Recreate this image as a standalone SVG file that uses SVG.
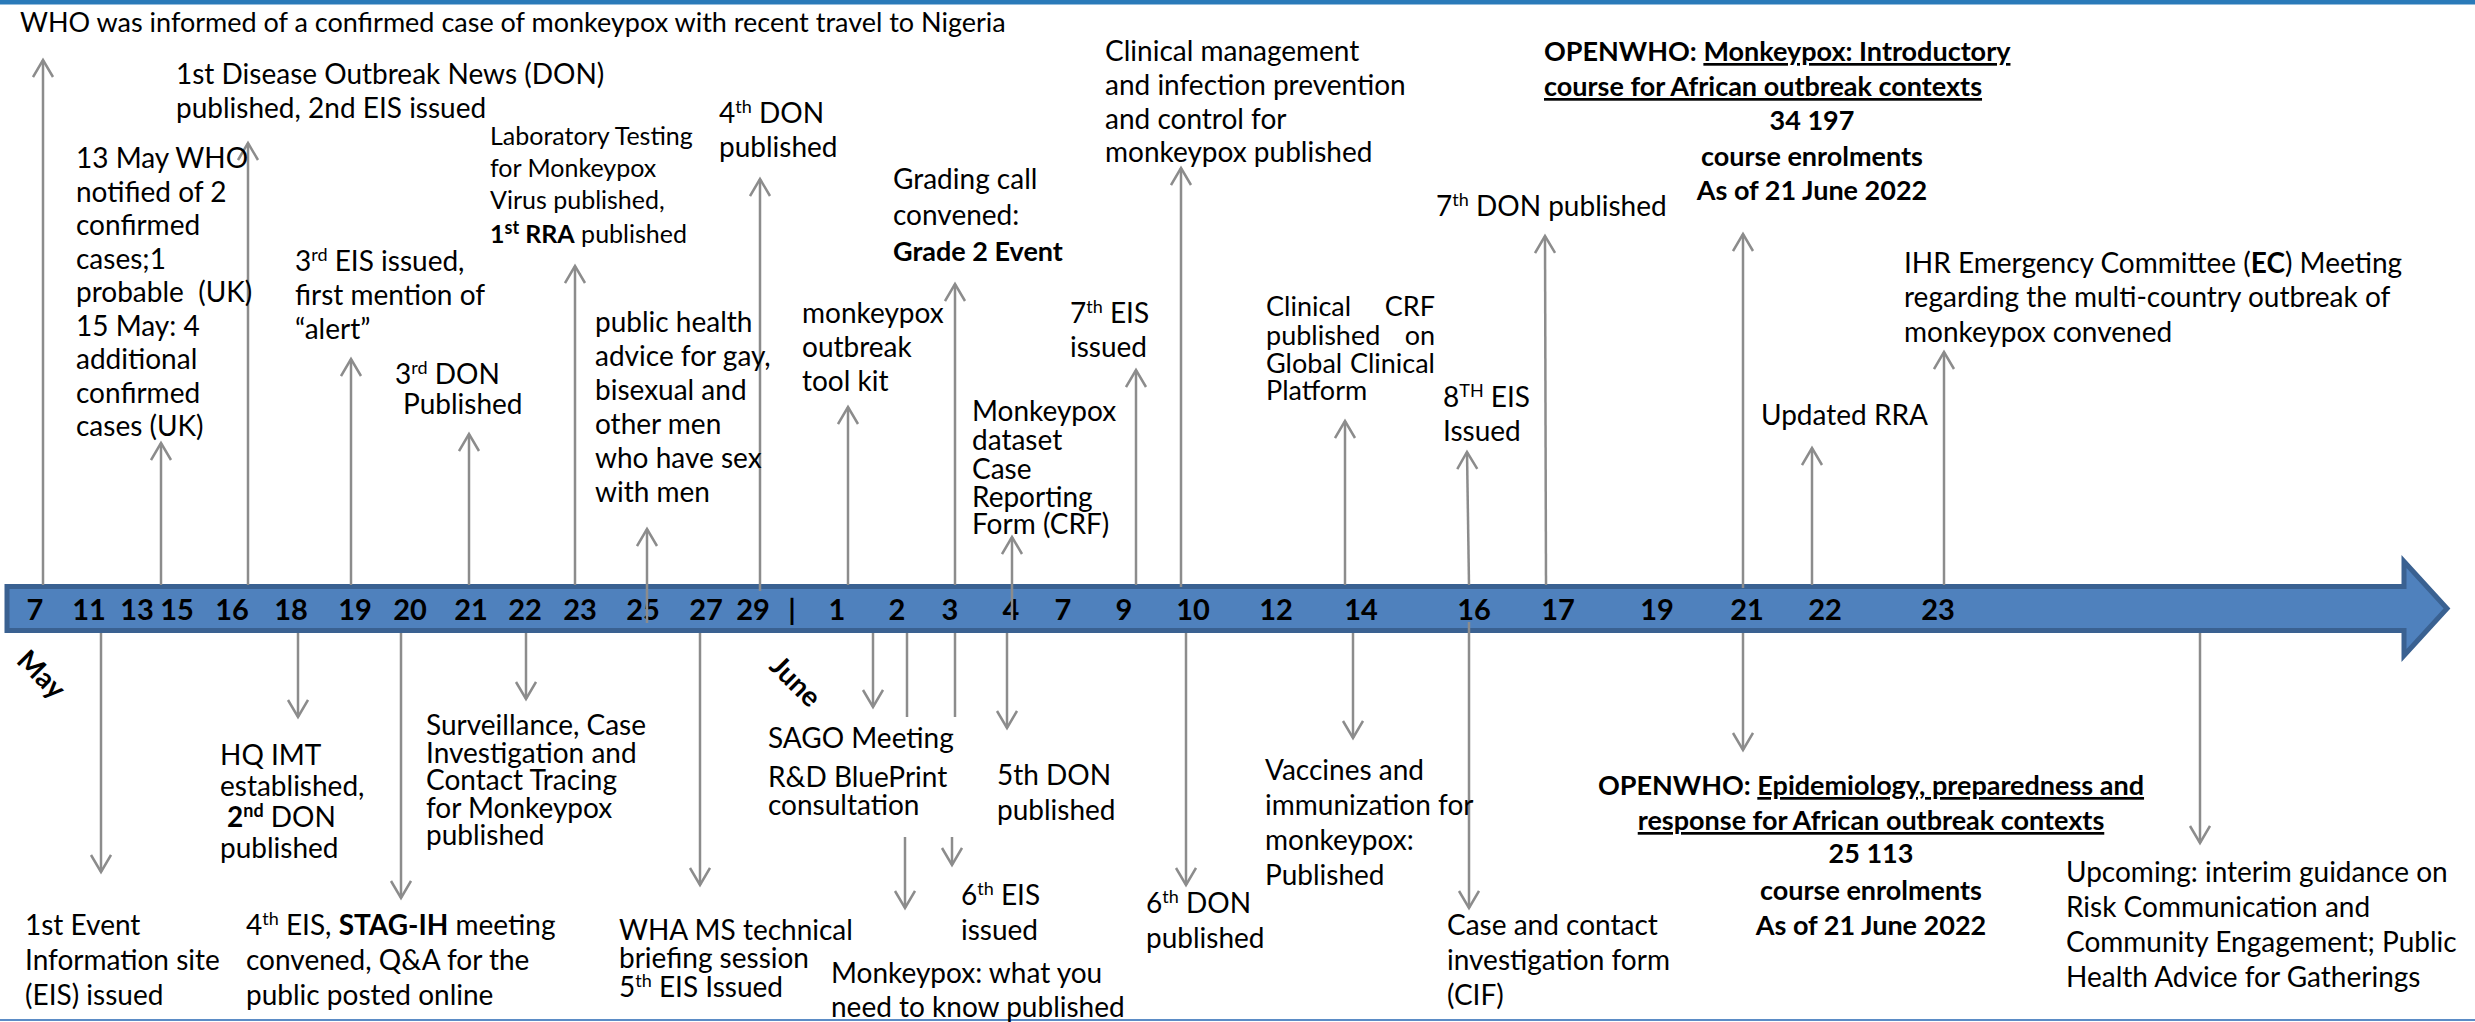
<svg xmlns="http://www.w3.org/2000/svg" width="2475" height="1022" viewBox="0 0 2475 1022">
<style>
.t{font-family:Lato,"Liberation Sans",sans-serif;font-size:28px;fill:#000}
.s25{font-size:25px}
.s27{font-size:27px}
.b{font-weight:bold}
.bb{font-weight:bold;font-size:27px}
.u{text-decoration:underline}
.sup{font-size:18px}
.n{font-family:Lato,"Liberation Sans",sans-serif;font-size:29px;font-weight:bold;text-anchor:middle;fill:#000}
.m{text-anchor:middle}
.e{text-anchor:end}
.c{stroke:#8C8C8C;stroke-width:2.5;fill:none}
.a{marker-end:url(#ah)}
</style>
<defs>
<marker id="ah" markerUnits="userSpaceOnUse" markerWidth="24" markerHeight="26" refX="18" refY="11" orient="auto" viewBox="0 0 24 26">
<path d="M1,1 L18,11 L1,21" fill="none" stroke="#8C8C8C" stroke-width="2.5"/>
</marker>
</defs>
<rect x="0" y="0" width="2475" height="4.5" fill="#2A7AB9"/>
<line x1="0" y1="1020" x2="2475" y2="1020" stroke="#5B8CC6" stroke-width="2"/>

<g id="timeline">
<polygon points="7,586.5 2404,586.5 2404,561.5 2447,608.5 2404,655.5 2404,630.5 7,630.5" fill="#4F81BD" stroke="#3A6191" stroke-width="5"/>
<g class="n">
<text x="35" y="620">7</text><text x="89" y="620">11</text><text x="137" y="620">13</text><text x="177" y="620">15</text>
<text x="232" y="620">16</text><text x="291" y="620">18</text><text x="355" y="620">19</text><text x="410" y="620">20</text>
<text x="471" y="620">21</text><text x="525" y="620">22</text><text x="580" y="620">23</text><text x="643" y="620">25</text>
<text x="706" y="620">27</text><text x="753" y="620">29</text><text x="792" y="620">|</text><text x="837" y="620">1</text>
<text x="897" y="620">2</text><text x="950" y="620">3</text><text x="1011" y="620">4</text><text x="1063" y="620">7</text>
<text x="1124" y="620">9</text><text x="1193" y="620">10</text><text x="1276" y="620">12</text><text x="1361" y="620">14</text>
<text x="1474" y="620">16</text><text x="1558" y="620">17</text><text x="1657" y="620">19</text><text x="1747" y="620">21</text>
<text x="1825" y="620">22</text><text x="1938" y="620">23</text>
</g>
<text class="t b" transform="translate(41,675) rotate(45)" text-anchor="middle" dy="9">May</text>
<text class="t b" transform="translate(795,682) rotate(45)" text-anchor="middle" dy="9">June</text>
</g>

<g id="connectors">
<line class="c a" x1="43" y1="585" x2="43" y2="60"/>
<line class="c a" x1="161" y1="585" x2="161" y2="443"/>
<line class="c a" x1="248" y1="585" x2="248" y2="143"/>
<line class="c a" x1="351" y1="585" x2="351" y2="359"/>
<line class="c a" x1="469" y1="585" x2="469" y2="434"/>
<line class="c a" x1="575" y1="585" x2="575" y2="266"/>
<line class="c a" x1="647" y1="623" x2="647" y2="529"/>
<line class="c a" x1="760" y1="591" x2="760" y2="179"/>
<line class="c a" x1="848" y1="585" x2="848" y2="407"/>
<line class="c a" x1="955" y1="585" x2="955" y2="284"/>
<line class="c a" x1="1012" y1="620" x2="1012" y2="537"/>
<line class="c a" x1="1136" y1="585" x2="1136" y2="370"/>
<line class="c a" x1="1181" y1="587" x2="1181" y2="168"/>
<line class="c a" x1="1345" y1="585" x2="1345" y2="421"/>
<line class="c a" x1="1469" y1="585" x2="1467" y2="452"/>
<line class="c a" x1="1546" y1="585" x2="1545" y2="236"/>
<line class="c a" x1="1743" y1="588" x2="1743" y2="234"/>
<line class="c a" x1="1812" y1="585" x2="1812" y2="448"/>
<line class="c a" x1="1944" y1="585" x2="1944" y2="352"/>

<line class="c a" x1="101" y1="633" x2="101" y2="872"/>
<line class="c a" x1="298" y1="633" x2="298" y2="717"/>
<line class="c a" x1="401" y1="633" x2="401" y2="898"/>
<line class="c a" x1="526" y1="633" x2="526" y2="699"/>
<line class="c a" x1="700" y1="633" x2="700" y2="885"/>
<line class="c a" x1="873" y1="633" x2="873" y2="707"/>
<line class="c" x1="907" y1="633" x2="907" y2="717"/>
<line class="c a" x1="905" y1="837" x2="905" y2="908"/>
<line class="c" x1="955" y1="633" x2="955" y2="717"/>
<line class="c a" x1="952" y1="837" x2="952" y2="865"/>
<line class="c a" x1="1007" y1="633" x2="1007" y2="728"/>
<line class="c a" x1="1186" y1="633" x2="1186" y2="885"/>
<line class="c a" x1="1353" y1="633" x2="1353" y2="738"/>
<line class="c a" x1="1469" y1="622" x2="1469" y2="908"/>
<line class="c a" x1="1743" y1="633" x2="1743" y2="750"/>
<line class="c a" x1="2200" y1="633" x2="2200" y2="843"/>
</g>

<g id="n-who-informed"><text class="t s27" x="20" y="32">WHO was informed of a confirmed case of monkeypox with recent travel to Nigeria</text></g>
<g id="n-1st-don"><text class="t" x="176" y="84">1st Disease Outbreak News (DON)</text><text class="t" x="176" y="118">published, 2nd EIS issued</text></g>
<g id="n-13may">
<text class="t" x="76" y="168">13 May WHO</text><text class="t" x="76" y="201.5">notified of 2</text><text class="t" x="76" y="235">confirmed</text>
<text class="t" x="76" y="268.5">cases;1</text><text class="t" x="76" y="302" xml:space="preserve">probable  (UK)</text><text class="t" x="76" y="335.5">15 May: 4</text>
<text class="t" x="76" y="369">additional</text><text class="t" x="76" y="402.5">confirmed</text><text class="t" x="76" y="436">cases (UK)</text>
</g>
<g id="n-3rd-eis"><text class="t" x="295" y="271">3<tspan class="sup" dy="-10">rd</tspan><tspan dy="10"> EIS issued,</tspan></text><text class="t" x="295" y="305">first mention of</text><text class="t" x="295" y="339">“alert”</text></g>
<g id="n-3rd-don"><text class="t" x="395" y="384">3<tspan class="sup" dy="-10">rd</tspan><tspan dy="10"> DON</tspan></text><text class="t" x="403" y="414">Published</text></g>
<g id="n-lab">
<text class="t s25" x="490" y="145">Laboratory Testing</text><text class="t s25" x="490" y="177">for Monkeypox</text><text class="t s25" x="490" y="209">Virus published,</text>
<text class="t s25" x="490" y="243"><tspan class="b">1</tspan><tspan class="b sup" dy="-9">st</tspan><tspan class="b" dy="9"> RRA</tspan> published</text>
</g>
<g id="n-public-health">
<text class="t" x="595" y="332">public health</text><text class="t" x="595" y="366">advice for gay,</text><text class="t" x="595" y="400">bisexual and</text>
<text class="t" x="595" y="434">other men</text><text class="t" x="595" y="468">who have sex</text><text class="t" x="595" y="502">with men</text>
</g>
<g id="n-4th-don"><text class="t" x="719" y="123">4<tspan class="sup" dy="-10">th</tspan><tspan dy="10"> DON</tspan></text><text class="t" x="719" y="157">published</text></g>
<g id="n-toolkit"><text class="t" x="802" y="323">monkeypox</text><text class="t" x="802" y="357">outbreak</text><text class="t" x="802" y="391">tool kit</text></g>
<g id="n-grading"><text class="t" x="893" y="189">Grading call</text><text class="t" x="893" y="225">convened:</text><text class="t bb" x="893" y="261">Grade 2 Event</text></g>
<g id="n-crf"><text class="t" x="972" y="421">Monkeypox</text><text class="t" x="972" y="450">dataset</text><text class="t" x="972" y="479">Case</text><text class="t" x="972" y="507">Reporting</text><text class="t" x="972" y="534">Form (CRF)</text></g>
<g id="n-7th-eis"><text class="t" x="1070" y="323">7<tspan class="sup" dy="-10">th</tspan><tspan dy="10"> EIS</tspan></text><text class="t" x="1070" y="357">issued</text></g>
<g id="n-clinical-mgmt"><text class="t" x="1105" y="61">Clinical management</text><text class="t" x="1105" y="95">and infection prevention</text><text class="t" x="1105" y="129">and control for</text><text class="t" x="1105" y="162">monkeypox published</text></g>
<g id="n-clinical-crf">
<text class="t s27" x="1266" y="316">Clinical</text><text class="t s27 e" x="1435" y="316">CRF</text>
<text class="t s27" x="1266" y="345">published</text><text class="t s27 e" x="1435" y="345">on</text>
<text class="t s27" x="1266" y="373">Global</text><text class="t s27 e" x="1435" y="373">Clinical</text>
<text class="t s27" x="1266" y="400">Platform</text>
</g>
<g id="n-8th-eis"><text class="t" x="1443" y="407">8<tspan class="sup" dy="-10">TH</tspan><tspan dy="10"> EIS</tspan></text><text class="t" x="1443" y="441">Issued</text></g>
<g id="n-7th-don"><text class="t" x="1436" y="216">7<tspan class="sup" dy="-10">th</tspan><tspan dy="10"> DON published</tspan></text></g>
<g id="n-openwho-intro">
<text class="t bb" x="1544" y="61">OPENWHO: <tspan class="u">Monkeypox: Introductory</tspan></text>
<text class="t bb u" x="1544" y="96">course for African outbreak contexts</text>
<text class="t bb m" x="1812" y="130">34 197</text>
<text class="t bb m" x="1812" y="166">course enrolments</text>
<text class="t bb m" x="1812" y="200">As of 21 June 2022</text>
</g>
<g id="n-updated-rra"><text class="t" x="1761" y="425">Updated RRA</text></g>
<g id="n-ihr"><text class="t" x="1904" y="273">IHR Emergency Committee (<tspan class="b">EC</tspan>) Meeting</text><text class="t" x="1904" y="307">regarding the multi-country outbreak of</text><text class="t" x="1904" y="342">monkeypox convened</text></g>

<g id="n-1st-eis"><text class="t" x="25" y="935">1st Event</text><text class="t" x="25" y="970">Information site</text><text class="t" x="25" y="1005">(EIS) issued</text></g>
<g id="n-hq-imt"><text class="t" x="220" y="765">HQ IMT</text><text class="t" x="220" y="796">established,</text><text class="t" x="227" y="827"><tspan class="b">2</tspan><tspan class="b sup" dy="-10">nd</tspan><tspan dy="10"> DON</tspan></text><text class="t" x="220" y="858">published</text></g>
<g id="n-4th-eis"><text class="t" x="246" y="935">4<tspan class="sup" dy="-10">th</tspan><tspan dy="10"> EIS, </tspan><tspan class="b">STAG-IH</tspan> meeting</text><text class="t" x="246" y="970">convened, Q&amp;A for the</text><text class="t" x="246" y="1005">public posted online</text></g>
<g id="n-surveillance"><text class="t" x="426" y="735">Surveillance, Case</text><text class="t" x="426" y="763">Investigation and</text><text class="t" x="426" y="790">Contact Tracing</text><text class="t" x="426" y="818">for Monkeypox</text><text class="t" x="426" y="845">published</text></g>
<g id="n-wha"><text class="t" x="619" y="940">WHA MS technical</text><text class="t" x="619" y="968">briefing session</text><text class="t" x="619" y="997">5<tspan class="sup" dy="-10">th</tspan><tspan dy="10"> EIS Issued</tspan></text></g>
<g id="n-sago"><text class="t" x="768" y="748">SAGO Meeting</text><text class="t" x="768" y="787">R&amp;D BluePrint</text><text class="t" x="768" y="815">consultation</text></g>
<g id="n-5th-don"><text class="t" x="997" y="785">5th DON</text><text class="t" x="997" y="820">published</text></g>
<g id="n-6th-eis"><text class="t" x="961" y="905">6<tspan class="sup" dy="-10">th</tspan><tspan dy="10"> EIS</tspan></text><text class="t" x="961" y="940">issued</text></g>
<g id="n-what-you-need"><text class="t" x="831" y="983">Monkeypox: what you</text><text class="t" x="831" y="1017">need to know published</text></g>
<g id="n-6th-don"><text class="t" x="1146" y="913">6<tspan class="sup" dy="-10">th</tspan><tspan dy="10"> DON</tspan></text><text class="t" x="1146" y="948">published</text></g>
<g id="n-vaccines"><text class="t" x="1265" y="780">Vaccines and</text><text class="t" x="1265" y="815">immunization for</text><text class="t" x="1265" y="850">monkeypox:</text><text class="t" x="1265" y="885">Published</text></g>
<g id="n-cif"><text class="t" x="1447" y="935">Case and contact</text><text class="t" x="1447" y="970">investigation form</text><text class="t" x="1447" y="1005">(CIF)</text></g>
<g id="n-openwho-epi">
<text class="t bb m" x="1871" y="795">OPENWHO: <tspan class="u">Epidemiology, preparedness and</tspan></text>
<text class="t bb u m" x="1871" y="830">response for African outbreak contexts</text>
<text class="t bb m" x="1871" y="863">25 113</text>
<text class="t bb m" x="1871" y="900">course enrolments</text>
<text class="t bb m" x="1871" y="935">As of 21 June 2022</text>
</g>
<g id="n-upcoming"><text class="t" x="2066" y="882">Upcoming: interim guidance on</text><text class="t" x="2066" y="917">Risk Communication and</text><text class="t" x="2066" y="952">Community Engagement; Public</text><text class="t" x="2066" y="987">Health Advice for Gatherings</text></g>
</svg>
